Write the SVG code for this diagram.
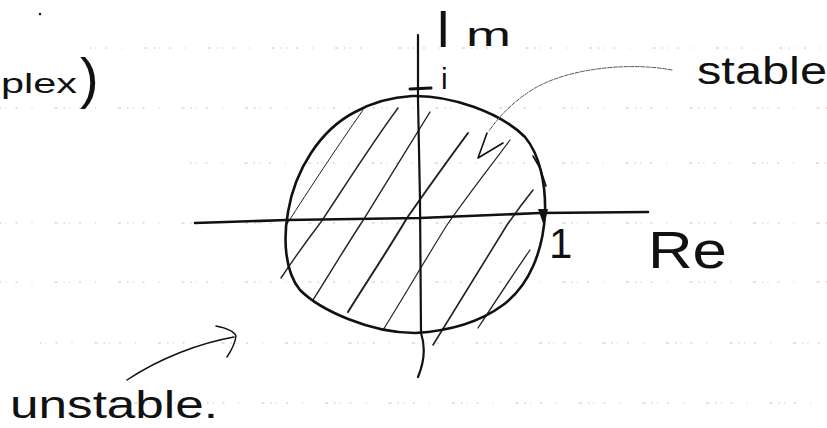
<svg xmlns="http://www.w3.org/2000/svg" width="827" height="428" viewBox="0 0 827 428">
  <style>
    .rule { stroke: #b5b5b5; stroke-width: 0.8; stroke-dasharray: 1.5 4 1 9 2 14 1 22 3 6; fill: none; }
    .ink { stroke: #111; fill: none; stroke-linecap: round; stroke-linejoin: round; }
    .hatch { stroke: #222; fill: none; stroke-linecap: round; }
    .faint { stroke: #555; fill: none; stroke-linecap: round; }
    .hand { font-family: "Liberation Sans", "DejaVu Sans", sans-serif; fill: #111; }
  </style>

  <!-- notebook ruling (faint dotted lines) -->
  <g id="ruling">
    <line class="rule" x1="90" y1="48" x2="827" y2="48"/>
    <line class="rule" x1="0" y1="108" x2="827" y2="108"/>
    <line class="rule" x1="190" y1="163" x2="827" y2="163"/>
    <line class="rule" x1="0" y1="223" x2="827" y2="223"/>
    <line class="rule" x1="0" y1="282" x2="827" y2="282"/>
    <line class="rule" x1="40" y1="343" x2="827" y2="343"/>
    <line class="rule" x1="80" y1="403" x2="827" y2="403"/>
  </g>

  <circle cx="40" cy="14" r="1.2" fill="#111"/>

  <!-- hatching of the stable region -->
  <g id="hatching">
    <path class="hatch" stroke-width="1" d="M 287 224 C 310 188, 335 150, 363 110"/>
    <path class="hatch" stroke-width="1.4" d="M 281 278 C 293 260, 305 243, 321 222 C 345 186, 370 146, 398 108"/>
    <path class="hatch" stroke-width="1.4" d="M 313 300 C 330 273, 345 248, 362 222 C 385 185, 408 147, 430 112"/>
    <path class="hatch" stroke-width="2" d="M 348 312 C 368 280, 388 250, 407 218 C 428 188, 448 160, 468 133"/>
    <path class="hatch" stroke-width="1.2" d="M 383 330 C 405 295, 425 260, 447 225 C 468 195, 490 167, 510 140"/>
    <path class="hatch" stroke-width="1.6" d="M 433 345 C 458 305, 482 265, 507 225 C 516 212, 525 200, 533 190"/>
    <path class="hatch" stroke-width="1.3" d="M 478 328 C 495 302, 512 276, 530 250"/>
  </g>

  <!-- axes -->
  <g id="axes">
    <path class="ink" stroke-width="2.6" d="M 195 223 L 287 220 L 420 218 L 540 213 L 648 212"/>
    <path class="ink" stroke-width="2.2" d="M 418 35 L 418 100 L 420 200 L 421 333 C 425 345, 425 360, 418 377"/>
    <path class="ink" stroke-width="3" d="M 410 89 L 431 88"/>
  </g>

  <!-- unit circle -->
  <g id="unit-circle">
    <path class="ink" stroke-width="2.6" d="M 412 96 C 450 95, 500 112, 525 137 C 540 155, 546 185, 545 214 C 543 250, 530 285, 503 305 C 480 322, 450 331, 415 333 C 370 333, 320 310, 300 290 C 285 272, 283 240, 288 212 C 295 170, 320 130, 355 112 C 375 101, 395 97, 412 96 Z"/>
    <path class="ink" stroke-width="1.6" d="M 533 156 L 540 168 L 546 186"/>
    <polygon points="538,209 548,209 544,226" fill="#111"/>
  </g>

  <!-- labels -->
  <g id="labels">
    <text class="hand" x="1" y="93" font-size="28" textLength="76" lengthAdjust="spacingAndGlyphs">plex</text>
    <text class="hand" x="80" y="97" font-size="56">)</text>
    <text class="hand" x="436" y="47" font-size="52">I</text>
    <text class="hand" x="466" y="46" font-size="33" textLength="45" lengthAdjust="spacingAndGlyphs">m</text>
    <text class="hand" x="441" y="89" font-size="30">i</text>
    <text class="hand" x="697" y="84" font-size="38" textLength="130" lengthAdjust="spacingAndGlyphs">stable</text>
    <text class="hand" x="549" y="258" font-size="42">1</text>
    <text class="hand" x="648" y="268" font-size="52" textLength="79" lengthAdjust="spacingAndGlyphs">Re</text>
    <text class="hand" x="10" y="418" font-size="38" textLength="208" lengthAdjust="spacingAndGlyphs">unstable.</text>
  </g>

  <!-- connectors (pointer arrows) -->
  <g id="connectors">
    <path class="faint" stroke-width="1" stroke-dasharray="4 1.5" d="M 672 70 C 630 62, 570 68, 535 88 C 515 100, 500 115, 489 131"/>
    <polyline class="ink" stroke-width="1.6" points="487,133 478,158 503,143"/>
    <path class="ink" stroke-width="1.5" d="M 127 380 C 160 358, 200 343, 234 337"/>
    <path class="ink" stroke-width="1.5" d="M 216 326 C 226 328, 234 331, 236 336 C 235 344, 231 351, 227 357"/>
  </g>
</svg>
